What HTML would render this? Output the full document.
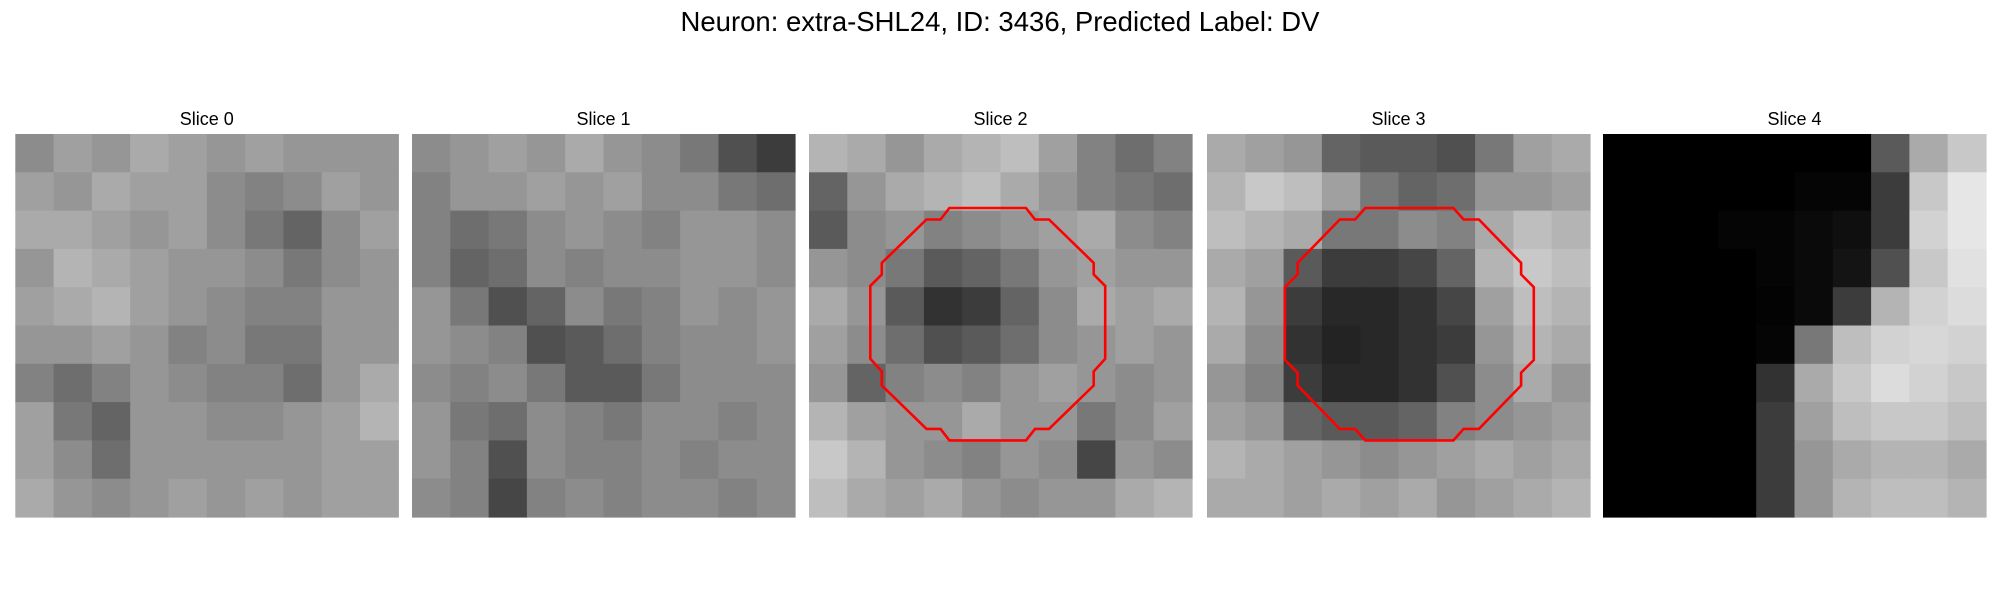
<!DOCTYPE html>
<html><head><meta charset="utf-8"><style>
html,body{margin:0;padding:0;background:#fff;width:2000px;height:600px;overflow:hidden}
svg{display:block}
text{font-family:"Liberation Sans","DejaVu Sans",sans-serif;fill:#000}
</style></head><body>
<svg id="chart" width="2000" height="600">
<text x="1000" y="31" text-anchor="middle" font-size="27.5">Neuron: extra-SHL24, ID: 3436, Predicted Label: DV</text>
</svg>
<script>
const sliceTitles = ["Slice 0","Slice 1","Slice 2","Slice 3","Slice 4"];
const slice0 = [
[140,160,150,170,160,150,160,150,150,150],
[160,150,170,160,160,140,130,140,160,150],
[170,170,160,150,160,140,120,100,140,160],
[150,180,170,160,150,150,140,120,140,150],
[160,170,180,160,150,140,130,130,150,150],
[150,150,160,150,130,140,120,120,150,150],
[130,110,130,150,140,130,130,110,150,170],
[160,120,100,150,150,140,140,150,160,180],
[160,140,110,150,150,150,150,150,160,160],
[170,150,140,150,160,150,160,150,160,160]];
const slice1 = [
[140,150,160,150,170,150,140,120,80,60],
[130,150,150,160,150,160,140,140,120,110],
[130,110,120,140,150,140,130,150,150,140],
[130,100,110,140,130,140,140,150,150,140],
[150,120,80,100,140,120,130,150,140,150],
[150,140,130,80,90,110,130,140,140,150],
[140,130,140,120,90,90,120,140,140,140],
[150,120,110,140,130,120,140,140,130,140],
[150,130,80,140,130,130,140,130,140,140],
[140,130,70,130,140,130,140,140,130,140]];
const slice2 = [
[180,170,150,170,180,190,160,130,110,130],
[100,150,170,180,190,170,150,130,120,110],
[90,140,150,130,140,150,160,170,140,130],
[150,140,120,90,100,120,150,160,150,150],
[170,150,90,50,60,100,140,170,160,170],
[160,140,110,80,90,110,140,150,160,150],
[150,100,130,140,130,150,160,150,140,150],
[180,160,150,150,170,150,150,120,140,160],
[200,180,150,140,130,150,140,70,150,140],
[190,170,160,170,150,140,150,150,170,180]];
const slice3 = [
[170,160,150,100,90,90,80,120,160,170],
[180,200,190,160,120,100,110,150,150,160],
[190,180,170,120,120,140,130,170,190,180],
[170,160,90,60,60,70,100,180,200,190],
[180,150,60,40,40,50,70,160,190,180],
[170,140,50,35,40,50,60,150,180,170],
[150,130,60,40,40,50,80,140,170,150],
[160,150,100,90,90,100,130,140,150,160],
[180,170,160,150,140,150,160,170,160,170],
[170,170,160,170,160,170,150,160,170,180]];
const slice4 = [
[0,0,0,0,0,0,0,90,170,200],
[0,0,0,0,0,5,5,60,200,230],
[0,0,0,5,5,10,15,60,210,230],
[0,0,0,0,5,10,20,80,200,225],
[0,0,0,0,3,10,60,180,210,220],
[0,0,0,0,5,120,190,210,215,210],
[0,0,0,0,50,170,200,220,210,200],
[0,0,0,0,60,160,190,200,200,190],
[0,0,0,0,60,150,170,180,180,170],
[0,0,0,0,60,150,180,190,190,180]];
const sliceData = [slice0,slice1,slice2,slice3,slice4];
// contours in 30-pixel image coordinates
const contour2X = [11.0,17.0,17.7,18.8,22.3,22.3,23.2,23.2,22.3,22.3,18.8,17.7,17.0,11.0,10.3,9.2,5.7,5.7,4.8,4.8,5.7,5.7,9.2,10.3];
const contour2Y = [5.8,5.8,6.7,6.7,10.1,11.0,11.9,17.6,18.6,19.7,23.1,23.1,24.0,24.0,23.1,23.1,19.7,18.6,17.6,11.9,11.0,10.1,6.7,6.7];
const contour3X = [12.4,19.3,20.1,21.3,24.6,24.6,25.6,25.6,24.6,24.6,21.3,20.1,19.3,12.4,11.6,10.4,7.1,7.1,6.1,6.1,7.1,7.1,10.4,11.6];
const contour3Y = [5.8,5.8,6.7,6.7,10.1,11.0,12.0,17.7,18.7,19.7,23.1,23.1,24.0,24.0,23.1,23.1,19.7,18.7,17.7,12.0,11.0,10.1,6.7,6.7];

const NS="http://www.w3.org/2000/svg";
const svg=document.getElementById('chart');
const panelX=[15.3,412,809,1207,1603], panelY=134, panelS=383, imgN=30;
function px(i,v){return panelX[i]+v/imgN*panelS;}
function py(v){return panelY+v/imgN*panelS;}
sliceData.forEach((grid,i)=>{
  const g=document.createElementNS(NS,'g');
  
  
  svg.appendChild(g);
  const t=document.createElementNS(NS,'text');
  
  
  t.setAttribute('x',panelX[i]+panelS/2);t.setAttribute('y',125);
  t.setAttribute('text-anchor','middle');t.setAttribute('font-size','18');
  t.textContent=sliceTitles[i];g.appendChild(t);
  const n=grid.length, cs=panelS/n;
  grid.forEach((row,r)=>row.forEach((v,c)=>{
    const rc=document.createElementNS(NS,'rect');
    
    
    rc.setAttribute('x',(panelX[i]+c*cs).toFixed(2));rc.setAttribute('y',(panelY+r*cs).toFixed(2));
    rc.setAttribute('width',(cs+0.6).toFixed(2));rc.setAttribute('height',(cs+0.6).toFixed(2));
    rc.setAttribute('fill',`rgb(${v},${v},${v})`);
    g.appendChild(rc);
  }));
});
[[2,contour2X,contour2Y],[3,contour3X,contour3Y]].forEach(([i,xs,ys])=>{
  const p=document.createElementNS(NS,'polygon');
  
  
  p.setAttribute('points',xs.map((x,k)=>px(i,x).toFixed(1)+','+py(ys[k]).toFixed(1)).join(' '));
  p.setAttribute('fill','none');p.setAttribute('stroke','#ff0000');p.setAttribute('stroke-width','2.6');
  svg.appendChild(p);
});
</script>
</body></html>
